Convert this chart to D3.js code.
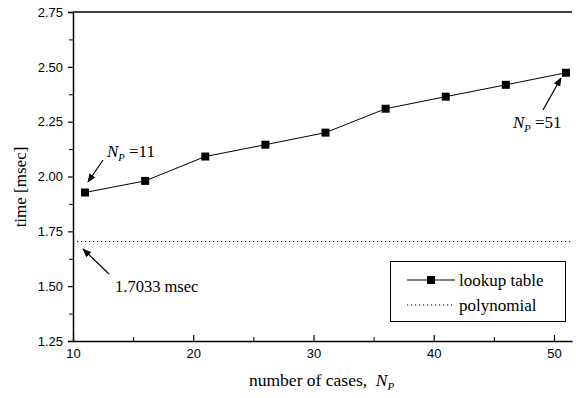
<!DOCTYPE html>
<html>
<head>
<meta charset="utf-8">
<script src="https://cdn.jsdelivr.net/npm/d3@7"></script>
<style>
	body { margin: 0; background: #fff; }
	svg { display: block; }
	.tick text { font-family: "Liberation Sans", Arial, sans-serif; font-size: 13px; fill: #000; }
</style>
</head>
<body>
<svg id="chart"></svg>
<script>
// data
const cases = [11, 16, 21, 26, 31, 36, 41, 46, 51];
const lookupTime = [1.927, 1.98, 2.091, 2.145, 2.20, 2.309, 2.364, 2.418, 2.473];
const polynomialTime = 1.7033;
const xTicks = [10, 20, 30, 40, 50];
const yTicks = [1.25, 1.50, 1.75, 2.00, 2.25, 2.50, 2.75];

const width = 576;
const height = 398;
const margin = { top: 12, right: 4, bottom: 57, left: 73 };
const SERIF = "'Liberation Serif', 'Times New Roman', serif";

const svg = d3.select("#chart")
	.attr("width", width)
	.attr("height", height);

const x = d3.scaleLinear([10, 51.5], [margin.left, width - margin.right]);
const y = d3.scaleLinear([1.25, 2.75], [height - margin.bottom, margin.top]);

// y axis, ticks pointing outward
svg.append("g")
	.attr("transform", `translate(${margin.left},0)`)
	.call(d3.axisLeft(y).tickValues(yTicks).tickFormat(d3.format(".2f")).tickSize(5).tickPadding(5))
	.call(g => g.select(".domain").attr("stroke-width", 1.5))
	.call(g => g.selectAll(".tick line").attr("stroke-width", 1.2));

// minor y ticks
svg.append("g")
	.attr("transform", `translate(${margin.left},0)`)
	.call(d3.axisLeft(y).tickValues(d3.range(1.375, 2.75, 0.25)).tickFormat("").tickSize(4).tickSizeOuter(0))
	.call(g => g.select(".domain").remove());

// x axis, ticks pointing up into the plot
svg.append("g")
	.attr("transform", `translate(0,${height - margin.bottom})`)
	.call(d3.axisBottom(x).tickValues(xTicks).tickSize(-6).tickPadding(8).tickSizeOuter(0))
	.call(g => g.select(".domain").attr("stroke-width", 1.5))
	.call(g => g.selectAll(".tick line").attr("stroke-width", 1.2))
	.call(g => g.selectAll(".tick text").attr("dy", "0.71em"));

svg.append("g")
	.attr("transform", `translate(0,${height - margin.bottom})`)
	.call(d3.axisBottom(x).tickValues([15, 25, 35, 45]).tickFormat("").tickSize(-4).tickSizeOuter(0))
	.call(g => g.select(".domain").remove());

// top frame line
svg.append("line")
	.attr("x1", x(10)).attr("x2", x(51.5))
	.attr("y1", y(2.75)).attr("y2", y(2.75))
	.attr("stroke", "#000").attr("stroke-width", 1.5);

// polynomial reference
svg.append("line")
	.attr("x1", x(10)).attr("x2", x(51.5))
	.attr("y1", y(polynomialTime)).attr("y2", y(polynomialTime))
	.attr("stroke", "#000").attr("stroke-width", 1)
	.attr("stroke-dasharray", "1.2,2.8");

// lookup table line + markers
const line = d3.line()
	.x((d, i) => x(cases[i]))
	.y(d => y(d));

svg.append("path")
	.datum(lookupTime)
	.attr("fill", "none")
	.attr("stroke", "#000")
	.attr("stroke-width", 1)
	.attr("d", line);

svg.append("g")
	.selectAll("rect")
	.data(lookupTime)
	.join("rect")
	.attr("x", (d, i) => x(cases[i]) - 4)
	.attr("y", d => y(d) - 4)
	.attr("width", 8)
	.attr("height", 8)
	.attr("fill", "#000");

function serifText(px, py, size) {
	return svg.append("text")
		.attr("x", px).attr("y", py)
		.attr("font-family", SERIF)
		.attr("font-size", size)
		.attr("fill", "#000");
}

// axis titles
serifText(0, 0, 17)
	.attr("transform", `translate(26,187) rotate(-90)`)
	.attr("text-anchor", "middle")
	.text("time [msec]");

const xTitle = serifText(249, 386, 17.5).attr("xml:space", "preserve");
xTitle.append("tspan").text("number of cases,  ");
xTitle.append("tspan").attr("font-style", "italic").text("N");
xTitle.append("tspan").attr("font-style", "italic").attr("font-size", 11).attr("dy", 4).text("P");

// arrows + annotations
svg.append("defs").append("marker")
	.attr("id", "head")
	.attr("viewBox", "0 0 10 10")
	.attr("refX", 9).attr("refY", 5)
	.attr("markerWidth", 9).attr("markerHeight", 9)
	.attr("markerUnits", "userSpaceOnUse")
	.attr("orient", "auto")
	.append("path")
	.attr("d", "M0,1 L10,5 L0,9 Z")
	.attr("fill", "#000");

function arrow(x1, y1, x2, y2) {
	svg.append("line")
		.attr("x1", x1).attr("y1", y1).attr("x2", x2).attr("y2", y2)
		.attr("stroke", "#000").attr("stroke-width", 1.2)
		.attr("marker-end", "url(#head)");
}

function npLabel(px, py, n) {
	const t = serifText(px, py, 17);
	t.append("tspan").attr("font-style", "italic").text("N");
	t.append("tspan").attr("font-style", "italic").attr("font-size", 10.5).attr("dy", 4).text("P");
	t.append("tspan").attr("dy", -4).text(" =" + n);
}

npLabel(107, 157, 11);
arrow(103, 160, 88, 182);

npLabel(513, 128, 51);
arrow(543, 110, 561, 78);

serifText(115, 292, 16.5).text("1.7033 msec");
arrow(109, 274, 83, 249);

// legend
const legend = svg.append("g");
legend.append("rect")
	.attr("x", 390.5).attr("y", 261.5)
	.attr("width", 175).attr("height", 60)
	.attr("fill", "#fff")
	.attr("stroke", "#000")
	.attr("stroke-width", 1);

legend.append("line")
	.attr("x1", 407).attr("x2", 455).attr("y1", 280).attr("y2", 280)
	.attr("stroke", "#000").attr("stroke-width", 1);
legend.append("rect")
	.attr("x", 427).attr("y", 276).attr("width", 8).attr("height", 8)
	.attr("fill", "#000");
serifText(459, 285.5, 17).text("lookup table");

legend.append("line")
	.attr("x1", 407).attr("x2", 455).attr("y1", 305).attr("y2", 305)
	.attr("stroke", "#000").attr("stroke-width", 1)
	.attr("stroke-dasharray", "1.2,2.8");
serifText(459, 310.5, 17).text("polynomial");
</script>
</body>
</html>
